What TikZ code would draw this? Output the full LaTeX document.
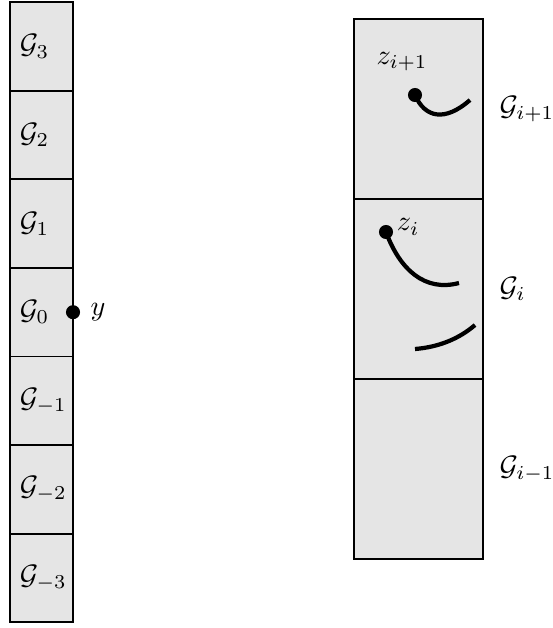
\documentclass[tikz,border=0pt]{standalone}
\usetikzlibrary{positioning}
\begin{document}
\begin{tikzpicture}[x=0.0125cm, y=-0.0125cm]
    \tikzstyle{cellbox}=[draw, fill=black!10, line width=0.7pt, outer sep=0pt, minimum width=0.7875cm, minimum height=1.1075cm, rectangle]
    \tikzstyle{bigbox}=[draw, fill=black!10, line width=0.7pt, outer sep=0pt, minimum width=1.6125cm, minimum height=2.25cm, rectangle]
    \tikzstyle{pathline}=[line width=1.5pt]
    \tikzstyle{dotmark}=[fill, circle, inner sep=0pt, minimum size=5pt]

    \useasboundingbox (0,0) rectangle (553,628);

    % left column
    \node[cellbox] (g3) at (41.5, 46.3) {};
    \node[cellbox, below=0pt of g3] (g2) {};
    \node[cellbox, below=0pt of g2] (g1) {};
    \node[cellbox, below=0pt of g1] (g0) {};
    \node[cellbox, below=0pt of g0] (gm1) {};
    \node[cellbox, below=0pt of gm1] (gm2) {};
    \node[cellbox, below=0pt of gm2] (gm3) {};

    \node[anchor=west] at (g3.west) {$\mathcal{G}_3$};
    \node[anchor=west] at (g2.west) {$\mathcal{G}_2$};
    \node[anchor=west] at (g1.west) {$\mathcal{G}_1$};
    \node[anchor=west] at (g0.west) {$\mathcal{G}_0$};
    \node[anchor=west] at (gm1.west) {$\mathcal{G}_{-1}$};
    \node[anchor=west] at (gm2.west) {$\mathcal{G}_{-2}$};
    \node[anchor=west] at (gm3.west) {$\mathcal{G}_{-3}$};

    \node[dotmark] (y) at (g0.east) {};
    \node[right=0pt of y] {$y$};

    % right column
    \node[bigbox] (gip1) at (418.5, 109) {};
    \node[bigbox, below=0pt of gip1] (gi) {};
    \node[bigbox, below=0pt of gi] (gim1) {};

    \node[right=2.4pt of gip1.east] {$\mathcal{G}_{i+1}$};
    \node[right=2.4pt of gi.east] {$\mathcal{G}_i$};
    \node[right=2.4pt of gim1.east] {$\mathcal{G}_{i-1}$};

    \node[dotmark] (zip1) at (415, 95) {};
    \node at (402, 62) {$z_{i+1}$};
    \coordinate (endA) at (470, 100);
    \draw[pathline] (zip1.center) .. controls (425, 118) and (445, 122) .. (endA);

    \node[dotmark] (zi) at (386, 232) {};
    \node[right=0pt of zi, inner sep=1pt, yshift=1.8pt] {$z_i$};
    \coordinate (endB) at (459, 283);
    \draw[pathline] (zi.center) .. controls (400, 270) and (425, 292) .. (endB);

    \coordinate (startC) at (415, 349);
    \coordinate (endC) at (475, 325);
    \draw[pathline] (startC) .. controls (440, 347) and (460, 338) .. (endC);
\end{tikzpicture}
\end{document}
